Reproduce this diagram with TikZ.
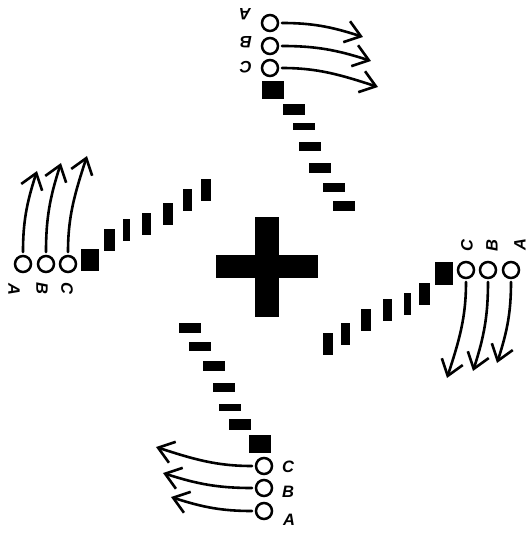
\documentclass[tikz,border=0pt]{standalone}
\usepackage{fontspec}
\newfontfamily\labfont{Liberation Sans}
\usetikzlibrary{arrows.meta}
\tikzset{
  dashbox/.style={fill=black, draw=none, minimum width=22pt, inner sep=0pt, outer sep=0pt},
  ring/.style={circle, draw=black, line width=2.5pt, minimum size=16pt, inner sep=0pt, outer sep=0pt},
  lab/.style={font=\labfont\bfseries\itshape\fontsize{16.5}{16.5}\selectfont, inner sep=0pt},
  curvarrow/.style={line width=2.6pt, line cap=round, shorten <=4pt, -{Straight Barb[length=15pt,width=22pt,line width=2.6pt]}},
  plusbar/.style={fill=black, draw=none, inner sep=0pt},
}
\newcommand\drawarm[2]{%
 \begin{scope}[rotate=#1, transform shape]
  \node[dashbox, minimum height=10pt] (#2d1) at (-77,-61) {};
  \node[dashbox, minimum height=9pt]  (#2d2) at (-67,-79) {};
  \node[dashbox, minimum height=10pt] (#2d3) at (-53,-99) {};
  \node[dashbox, minimum height=9pt]  (#2d4) at (-43,-120) {};
  \node[dashbox, minimum height=7pt]  (#2d5) at (-37,-140) {};
  \node[dashbox, minimum height=11pt] (#2d6) at (-27,-157) {};
  \node[dashbox, minimum height=18pt] (#2sq) at (-6.5,-177) {};
  \node[ring] (#2cC) at (-3,-199) {};
  \node[ring] (#2cB) at (-3,-221) {};
  \node[ring] (#2cA) at (-3,-244) {};
  \node[lab] (#2lC) at (21,-200) {C};
  \node[lab] (#2lB) at (21,-225) {B};
  \node[lab] (#2lA) at (22,-253) {A};
  \coordinate (#2tC) at (-111,-180);
  \coordinate (#2tB) at (-104,-206);
  \coordinate (#2tA) at (-96,-230);
  \draw[curvarrow] (#2cC.west) to[out=180,in=-18] (#2tC);
  \draw[curvarrow] (#2cB.west) to[out=180,in=-18] (#2tB);
  \draw[curvarrow] (#2cA.west) to[out=180,in=-18] (#2tA);
 \end{scope}}
\begin{document}
\begin{tikzpicture}[x=1pt,y=1pt]
  \useasboundingbox (-267,-266) rectangle (262,267);
  \node[plusbar, minimum width=102pt, minimum height=23pt] (plush) at (0,0) {};
  \node[plusbar, minimum width=24pt, minimum height=100pt] (plusv) at (0,0) {};
  \drawarm{0}{s}
  \drawarm{90}{e}
  \drawarm{180}{n}
  \drawarm{270}{w}
\end{tikzpicture}
\end{document}
